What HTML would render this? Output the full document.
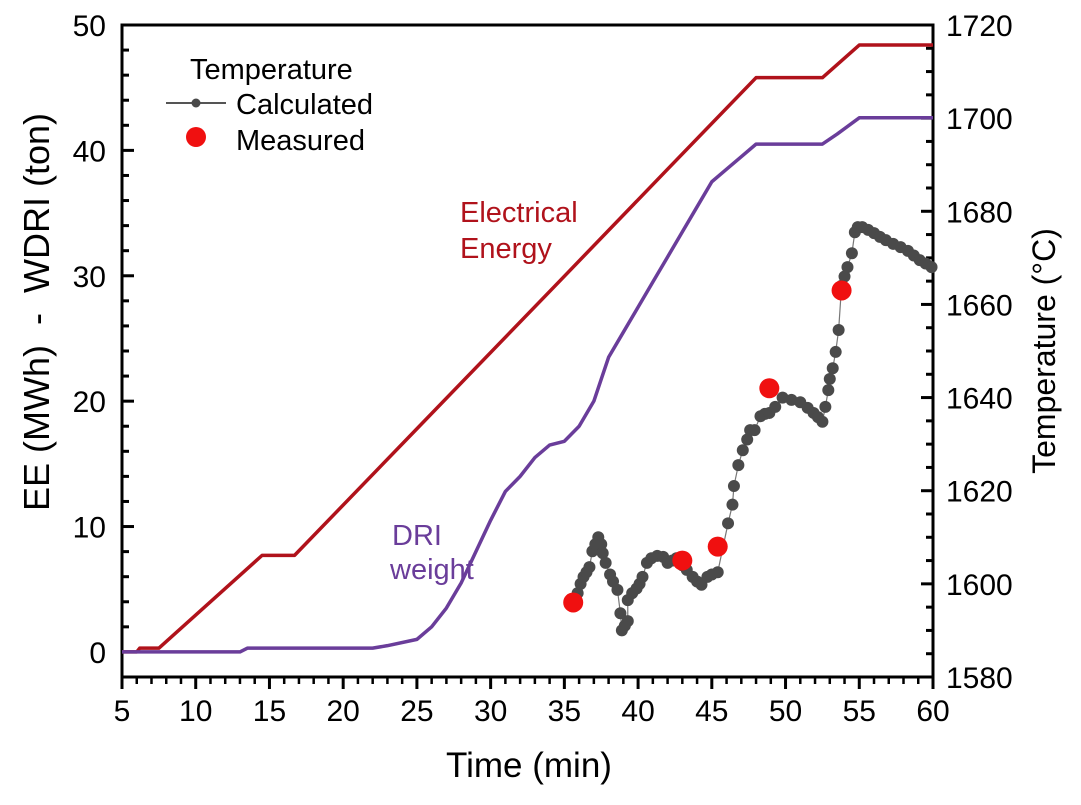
<!DOCTYPE html>
<html><head><meta charset="utf-8"><style>
body{margin:0;background:#fff;}
svg{display:block;font-family:"Liberation Sans",Arial,sans-serif;}
</style></head><body>
<svg id="c" width="1081" height="805"></svg>
<script>
const eeTime=[5,6,6.2,7.5,14.5,16.7,25,34.7,42,48,52.5,55,60];
const eeVal=[0,0,0.3,0.3,7.7,7.7,17.8,29.6,38.5,45.8,45.8,48.4,48.4];
const driTime=[5,13,13.5,22,23,25,26,27,28,29,30,31,32,33,34,35,36,37,38,39,40,41,42,43,44,45,46,47,48,52.5,53.5,55,60];
const driVal=[0,0,0.3,0.3,0.5,1,2,3.5,5.5,8,10.5,12.8,14,15.5,16.5,16.8,18,20,23.5,25.5,27.5,29.5,31.5,33.5,35.5,37.5,38.5,39.5,40.5,40.5,41.3,42.6,42.6];
const calcTime=[35.9,36.1,36.3,36.5,36.7,36.9,37.1,37.3,37.5,37.6,37.8,38.1,38.3,38.6,38.8,38.9,39.1,39.3,39.3,39.6,39.9,40.1,40.3,40.6,40.9,41.3,41.7,42.0,42.3,42.6,43.0,43.3,43.7,44.0,44.3,44.7,45.0,45.4,46.1,46.4,46.5,46.8,47.1,47.4,47.6,47.9,48.3,48.6,48.9,49.3,49.8,50.4,51.0,51.5,51.9,52.2,52.5,52.7,52.9,53.0,53.2,53.4,53.6,53.8,54.0,54.2,54.5,54.7,54.9,55.2,55.6,56.0,56.4,56.8,57.3,57.8,58.3,58.7,59.1,59.5,59.9];
const calcTemp=[1598,1600,1601.5,1602.5,1603.6,1607,1608.5,1610,1608.5,1606.6,1604.5,1602,1600.5,1598.7,1593.7,1590,1591,1592,1596.5,1598,1599,1600,1601.5,1604.5,1605.5,1606,1605.8,1604.5,1605,1605.5,1604,1603,1601.5,1600.5,1599.8,1601.5,1602,1602.5,1613,1617,1621,1625.5,1628.7,1631,1633,1633,1636,1636.5,1636.7,1638,1640,1639.5,1639,1637.8,1636.7,1635.8,1634.8,1638,1641.6,1644,1646.3,1649.8,1654.5,1664,1666,1668,1671,1675.5,1676.6,1676.6,1676,1675.3,1674.5,1673.8,1673,1672.3,1671.5,1670.5,1669.5,1668.8,1668];
const measTime=[35.6,43.0,45.4,48.9,53.8];
const measTemp=[1596,1605,1608,1642,1663];
const xTicks=[5,10,15,20,25,30,35,40,45,50,55,60];
const yLTicks=[0,10,20,30,40,50];
const yRTicks=[1580,1600,1620,1640,1660,1680,1700,1720];

const L=122,R=933,T=25,B=677;
const X=t=>L+(t-5)/55*(R-L);
const YL=v=>B-(v+2)/52*(B-T);
const YR=v=>B-(v-1580)/140*(B-T);
const svg=document.getElementById('c');
const NS='http://www.w3.org/2000/svg';
function mk(tag,attrs,parent){const e=document.createElementNS(NS,tag);for(const k in attrs)e.setAttribute(k,attrs[k]);(parent||svg).appendChild(e);return e;}
function txt(s,x,y,size,anchor,fill,parent){const e=mk('text',{x:x,y:y,'font-size':size,'text-anchor':anchor||'start',fill:fill||'#000'},parent);e.textContent=s;return e;}

let fr=mk('rect',{x:L,y:T,width:R-L,height:B-T,fill:'none',stroke:'#000','stroke-width':3});



const gx=mk('g',{});


for(let t=5;t<=60;t++){const maj=t%5===0;mk('line',{x1:X(t),x2:X(t),y1:B,y2:B+(maj?12:7),stroke:'#000','stroke-width':maj?3:2.5},gx);}
xTicks.forEach(t=>{const e=txt(String(t),X(t),B+44,30,'middle','#000',gx);

});
const gl=mk('g',{});


for(let v=0;v<=50;v+=2){const maj=v%10===0;mk('line',{x1:L,x2:L+(maj?12:7),y1:YL(v),y2:YL(v),stroke:'#000','stroke-width':3},gl);}
yLTicks.forEach(v=>{const e=txt(String(v),106,YL(v)+11,30,'end','#000',gl);

});
const gr=mk('g',{});


for(let v=1580;v<=1720;v+=5){const maj=v%20===0;mk('line',{x1:R,x2:R-(maj?12:7),y1:YR(v),y2:YR(v),stroke:'#000','stroke-width':3},gr);}
yRTicks.forEach(v=>{const e=txt(String(v),946,YR(v)+11,30,'start','#000',gr);

});

let xt=txt('Time (min)',529,777,35,'middle');


let yt=txt('EE (MWh)\u00a0\u00a0-\u00a0\u00a0WDRI (ton)',0,0,36,'middle');
yt.setAttribute('transform','translate(49,312) rotate(-90)');


let yr=txt('Temperature (°C)',0,0,32,'middle');
yr.setAttribute('transform','translate(1055,351) rotate(-90)');



let ee=mk('polyline',{points:eeTime.map((t,i)=>X(t)+','+YL(eeVal[i])).join(' '),fill:'none',stroke:'#b0121b','stroke-width':3.5,'stroke-linejoin':'round'});


let dri=mk('polyline',{points:driTime.map((t,i)=>X(t)+','+YL(driVal[i])).join(' '),fill:'none',stroke:'#6a3d9a','stroke-width':3.5,'stroke-linejoin':'round'});



const gc=mk('g',{});


mk('polyline',{points:calcTime.map((t,i)=>X(t)+','+YR(calcTemp[i])).join(' '),fill:'none',stroke:'#777','stroke-width':1.2},gc);
calcTime.forEach((t,i)=>{const c=mk('circle',{cx:X(t),cy:YR(calcTemp[i]),r:6,fill:'#4a4a4a'},gc);

});
const gm=mk('g',{});


measTime.forEach((t,i)=>{const c=mk('circle',{cx:X(t),cy:YR(measTemp[i]),r:10,fill:'#f01010'},gm);

});

let a1=txt('Electrical',460,222,29,'start','#b0121b');


txt('Energy',460,258,29,'start','#b0121b');
let a2=txt('DRI',392,545,29,'start','#6a3d9a');


txt('weight',390,551+28,29,'start','#6a3d9a');

const lg=mk('g',{});


txt('Temperature',190,79,29,'start','#000',lg);
mk('line',{x1:166,x2:226,y1:103,y2:103,stroke:'#555','stroke-width':2},lg);
mk('circle',{cx:196,cy:103,r:4.5,fill:'#4a4a4a'},lg);
txt('Calculated',236,114,29,'start','#000',lg);
mk('circle',{cx:196,cy:137,r:10,fill:'#f01010'},lg);
txt('Measured',236,150,29,'start','#000',lg);
</script>
</body></html>
